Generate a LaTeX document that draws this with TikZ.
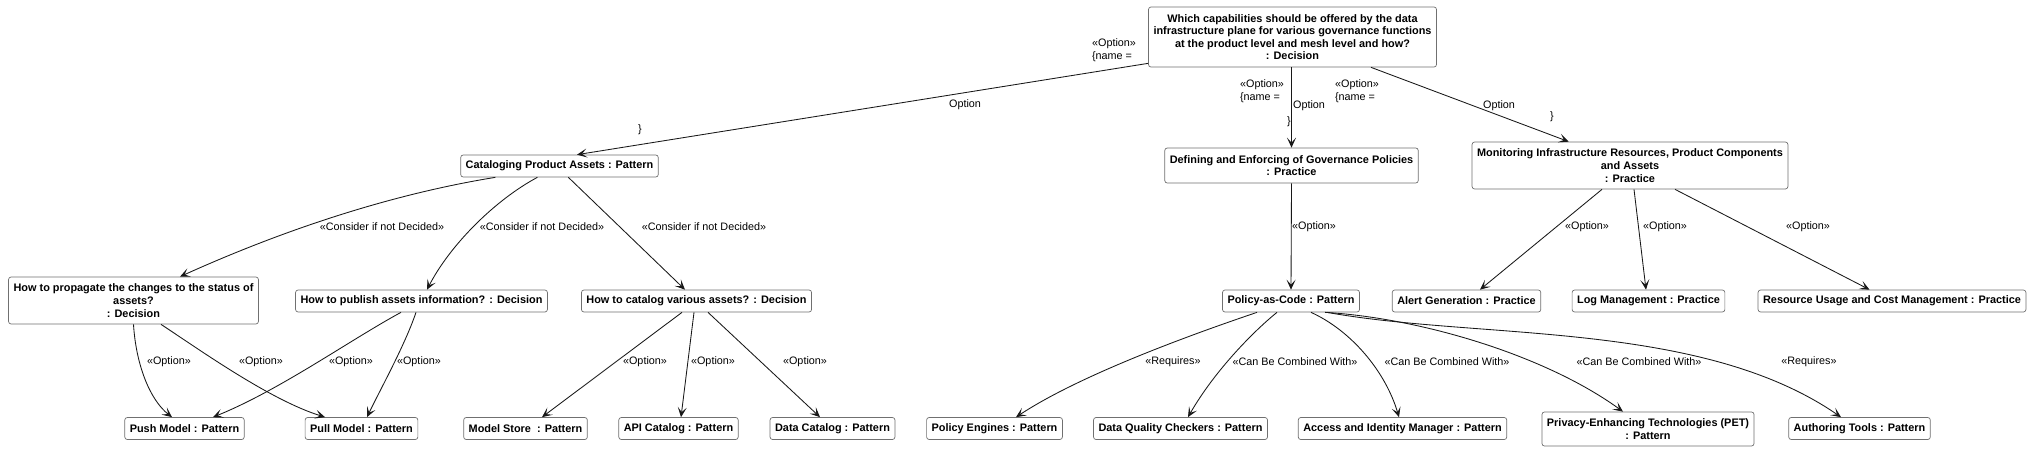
\documentclass[tikz,border=0pt]{standalone}
\usepackage{fontspec}
\setmainfont{Liberation Sans}
\usetikzlibrary{arrows.meta}
\definecolor{boxc}{HTML}{707070}
\definecolor{linec}{HTML}{181818}
\begin{document}
\begin{tikzpicture}[x=1pt,y=-1pt,
  box/.style={draw=boxc, line width=0.7pt, rounded corners=2.5pt, fill=white, inner xsep=5pt, inner ysep=0pt, align=center, font=\fontsize{10.9}{12.6}\selectfont\bfseries, minimum height=22pt},
  arr/.style={draw=linec, line width=0.85pt, -{Stealth[length=10pt,width=9pt,inset=5pt]}},
  lbl/.style={font=\fontsize{10.8}{12.6}\selectfont, inner sep=0pt, align=center, text=black}]
\fill[white] (0,0) rectangle (2030,451);
\useasboundingbox (0,0) rectangle (2030,451);

% nodes
\node[box, minimum height=60pt] (top) at (1292.5,37) {Which capabilities should be offered by the data\\infrastructure plane for various governance functions\\at the product level and mesh level and how?\\: Decision};
\node[box] (cat) at (559.5,166) {Cataloging Product Assets : Pattern};
\node[box, minimum height=35pt] (def) at (1291.5,165.5) {Defining and Enforcing of Governance Policies\\: Practice};
\node[box, minimum height=47pt] (mon) at (1630,165.5) {Monitoring Infrastructure Resources, Product Components\\and Assets\\: Practice};
\node[box, minimum height=47pt] (prop) at (133.5,300.5) {How to propagate the changes to the status of\\assets?\\: Decision};
\node[box] (pub) at (421.5,301) {How to publish assets information? : Decision};
\node[box] (catv) at (696.5,301) {How to catalog various assets? : Decision};
\node[box] (pac) at (1291,301) {Policy-as-Code : Pattern};
\node[box] (alert) at (1466.5,301) {Alert Generation : Practice};
\node[box] (log) at (1648.5,301) {Log Management : Practice};
\node[box] (res) at (1892,301) {Resource Usage and Cost Management : Practice};
\node[box] (push) at (184.5,428.5) {Push Model : Pattern};
\node[box] (pull) at (361.5,428.5) {Pull Model : Pattern};
\node[box] (ms) at (525.5,428.5) {Model Store\ \ : Pattern};
\node[box] (api) at (678.5,428.5) {API Catalog : Pattern};
\node[box] (dc) at (832.5,428.5) {Data Catalog : Pattern};
\node[box] (pe) at (994.5,428.5) {Policy Engines : Pattern};
\node[box] (dq) at (1180.5,428.5) {Data Quality Checkers : Pattern};
\node[box] (acc) at (1402.5,428.5) {Access and Identity Manager : Pattern};
\node[box, minimum height=34pt] (pet) at (1648,429) {Privacy-Enhancing Technologies (PET)\\: Pattern};
\node[box] (auth) at (1859.5,428.5) {Authoring Tools : Pattern};

% top-level edges
\draw[arr] ([yshift=4pt]top.south west) -- ([xshift=17.5pt]cat.north);
\draw[arr] (def.north |- top.south) -- (def.north);
\draw[arr] ([xshift=78.5pt]top.south) -- ([xshift=97pt]mon.north west);

\node[lbl, align=left] (l1a) at (1114,50) {«Option»\\\{name =};
\node[lbl] (l1b) at (965,105) {Option};
\node[lbl] (l1c) at (640,130) {\}};
\node[lbl, align=left] (l2a) at (1262,91) {«Option»\\\{name =};
\node[lbl] (l2b) at (1309,106) {Option};
\node[lbl] (l2c) at (1289,122) {\}};
\node[lbl, align=left] (l3a) at (1357,91) {«Option»\\\{name =};
\node[lbl] (l3b) at (1499,106) {Option};
\node[lbl] (l3c) at (1552,117) {\}};

% cataloging edges
\draw[arr] ([xshift=35pt]cat.south west) .. controls (380,196) and (270,236) .. ([xshift=46.5pt]prop.north);
\draw[arr] ([xshift=77pt]cat.south west) .. controls (495,200) and (450,245) .. ([xshift=5.5pt]pub.north);
\draw[arr] ([xshift=108pt]cat.south west) -- ([xshift=-11.5pt]catv.north);
\node[lbl] (c1) at (382,227) {«Consider if not Decided»};
\node[lbl] (c2) at (542,227) {«Consider if not Decided»};
\node[lbl] (c3) at (704,227) {«Consider if not Decided»};

% decisions to patterns
\draw[arr] (prop.south) .. controls (136,365) and (150,400) .. ([xshift=-12.5pt]push.north);
\draw[arr] ([xshift=27.5pt]prop.south) .. controls (200,350) and (270,400) .. ([xshift=-36.5pt]pull.north);
\draw[arr] ([xshift=-20.5pt]pub.south) .. controls (350,340) and (280,390) .. ([xshift=28.5pt]push.north);
\draw[arr] ([xshift=-5.5pt]pub.south) .. controls (405,345) and (380,390) .. ([xshift=5.5pt]pull.north);
\draw[arr] ([xshift=-14.5pt]catv.south) -- ([xshift=16.5pt]ms.north);
\draw[arr] ([xshift=-2.5pt]catv.south) -- ([xshift=2.5pt]api.north);
\draw[arr] ([xshift=11.5pt]catv.south) -- ([xshift=-12.5pt]dc.north);
\node[lbl] (o1) at (169,362) {«Option»};
\node[lbl] (o2) at (261,362) {«Option»};
\node[lbl] (o3) at (351,362) {«Option»};
\node[lbl] (o4) at (419,362) {«Option»};
\node[lbl] (o5) at (645,362) {«Option»};
\node[lbl] (o6) at (713,362) {«Option»};
\node[lbl] (o7) at (805,362) {«Option»};

% governance
\draw[arr] (def.south) -- (pac.north);
\node[lbl] (o8) at (1314,227) {«Option»};
\draw[arr] ([xshift=-34pt]pac.south) .. controls (1190,335) and (1080,375) .. ([xshift=21.5pt]pe.north);
\draw[arr] ([xshift=-14pt]pac.south) .. controls (1255,330) and (1215,370) .. ([xshift=7.5pt]dq.north);
\draw[arr] ([xshift=20pt]pac.south) .. controls (1350,330) and (1385,370) .. ([xshift=-3.5pt]acc.north);
\draw[arr] ([xshift=34pt]pac.south) .. controls (1420,318) and (1545,355) .. ([xshift=-25pt]pet.north);
\draw[arr] ([xshift=36pt]pac.south) .. controls (1480,340) and (1700,320) .. ([xshift=-18.5pt]auth.north);
\node[lbl] (r1) at (1173,362) {«Requires»};
\node[lbl] (b1) at (1295,362) {«Can Be Combined With»};
\node[lbl] (b2) at (1447,362) {«Can Be Combined With»};
\node[lbl] (b3) at (1639,362) {«Can Be Combined With»};
\node[lbl] (r2) at (1809,362) {«Requires»};

% monitoring
\draw[arr] ([xshift=-28pt]mon.south) -- ([xshift=13.5pt]alert.north);
\draw[arr] ([xshift=4pt]mon.south) -- ([xshift=-2.5pt]log.north);
\draw[arr] ([xshift=45pt]mon.south) -- ([xshift=-22.5pt]res.north);
\node[lbl] (o9) at (1587,227) {«Option»};
\node[lbl] (o10) at (1665,227) {«Option»};
\node[lbl] (o11) at (1808,227) {«Option»};
\end{tikzpicture}
\end{document}
